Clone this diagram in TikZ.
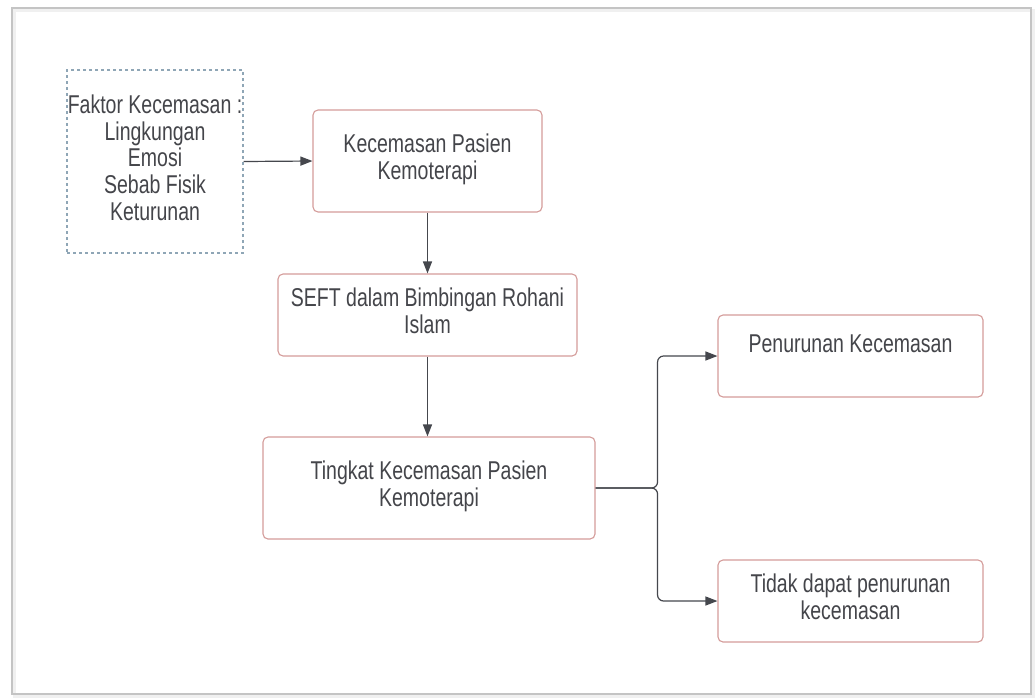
\documentclass[tikz,border=0pt]{standalone}
\usepackage{fontspec}
\usepackage{graphicx}
\setmainfont{Liberation Sans}
\usetikzlibrary{arrows.meta}
\definecolor{txt}{HTML}{44454A}
\definecolor{boxred}{HTML}{D49C9A}
\definecolor{dashblue}{HTML}{8FA6B6}
\definecolor{arr}{HTML}{45474D}
\definecolor{frame}{HTML}{C4C4C4}
\newcommand{\tx}[1]{\scalebox{1}[1.32]{\begin{tabular}{@{}c@{}}#1\end{tabular}}}
\tikzset{
  lbl/.style={text=txt, font=\fontsize{19.5}{20.3}\selectfont, align=center, inner sep=0pt},
  rbox/.style={lbl, draw=boxred, line width=1.1pt, rounded corners=5pt},
  dbox/.style={lbl, draw=dashblue, line width=1.1pt, dash pattern=on 3pt off 3pt},
  conn/.style={draw=arr, line width=1.2pt, -{Triangle[length=12pt,width=9pt]}}
}
\begin{document}
\begin{tikzpicture}[x=1pt,y=-1pt]
\useasboundingbox (0,0) rectangle (1035,697);
\fill[white] (0,0) rectangle (1035,697);
% outer frame with soft shadow
\draw[draw=black!6, line width=3pt] (14,10) rectangle (1033,696);
\draw[draw=frame, line width=1.3pt] (12,8) rectangle (1031,694);

\node[dbox, minimum width=176pt, minimum height=183pt] (f) at (155,161.5)
  {\tx{Faktor Kecemasan :\\Lingkungan\\Emosi\\Sebab Fisik\\Keturunan}};
\node[rbox, minimum width=229pt, minimum height=102pt] (b1) at (427.5,161)
  {\tx{Kecemasan Pasien\\Kemoterapi}};
\node[rbox, minimum width=299pt, minimum height=82pt] (b2) at (427.5,315)
  {\tx{SEFT dalam Bimbingan Rohani\\Islam}};
\node[rbox, minimum width=332pt, minimum height=102pt] (b3) at (429,488)
  {\tx{Tingkat Kecemasan Pasien\\Kemoterapi}};
\node[rbox, minimum width=265pt, minimum height=82pt] (b4) at (850.5,356)
  {\tx{Penurunan Kecemasan\\[-7pt]\mbox{}}};
\node[rbox, minimum width=265pt, minimum height=82pt] (b5) at (850.5,601)
  {\tx{Tidak dapat penurunan\\kecemasan}};

\draw[conn] (f.east) -- (b1.west);
\draw[conn] (b1.south) -- (b2.north);
\draw[conn] (b2.south) -- (b3.north -| b2.south);
\draw[conn, rounded corners=6pt] (b3.east) -- ++(62,0) |- (b4.west);
\draw[conn, rounded corners=6pt] (b3.east) -- ++(62,0) |- (b5.west);
\end{tikzpicture}
\end{document}
